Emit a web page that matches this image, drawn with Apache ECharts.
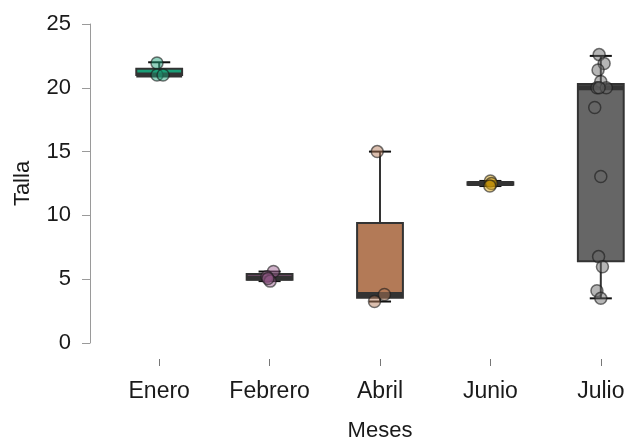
<!DOCTYPE html>
<html>
<head>
<meta charset="utf-8">
<script src="https://cdn.jsdelivr.net/npm/echarts@6/dist/echarts.min.js"></script>
<style>
  html, body { margin: 0; padding: 0; background: #fff; }
  #chart { width: 625px; height: 441px; }
</style>
</head>
<body>
<div id="chart"></div>
<script>
// Months on the horizontal axis
const categories = ['Enero', 'Febrero', 'Abril', 'Junio', 'Julio'];
const boxColors = ['#1B9E77', '#9A5C8E', '#B37A57', '#D69E09', '#666666'];

// Box summaries per month: whisker low, Q1, median, Q3, whisker high
const boxMin    = [21.0, 4.85, 3.25, 12.3, 3.5];
const boxQ1     = [21.0, 4.95, 3.55, 12.4, 6.4];
const boxMedian = [21.0, 5.1,  3.8,  12.5, 20.0];
const boxQ3     = [21.5, 5.4,  9.4,  12.6, 20.3];
const boxMax    = [22.0, 5.6,  15.0, 12.7, 22.5];

// Individual observations (Talla) and their horizontal jitter per month
const eneroValues   = [21.95, 21.0, 21.0];
const eneroJitter   = [-0.02, -0.02, 0.035];
const febreroValues = [5.6, 5.2, 4.85, 5.05];
const febreroJitter = [0.035, -0.025, 0.005, -0.015];
const abrilValues   = [15.0, 3.8, 3.25];
const abrilJitter   = [-0.025, 0.04, -0.05];
const junioValues   = [12.7, 12.5, 12.3];
const junioJitter   = [0.0, 0.01, -0.005];
const julioValues   = [22.6, 21.9, 21.4, 20.5, 20.0, 20.0, 20.0, 18.45, 13.05, 6.77, 5.98, 4.1, 3.5];
const julioJitter   = [-0.015, 0.03, -0.025, 0.0, -0.035, 0.05, -0.015, -0.055, 0.0, -0.02, 0.015, -0.035, 0.0];

const yTicks = [0, 5, 10, 15, 20, 25];

const FONT = '"Liberation Sans", Arial, sans-serif';
const TEXT = '#1a1a1a';

const pointGroups = [
  [eneroValues, eneroJitter],
  [febreroValues, febreroJitter],
  [abrilValues, abrilJitter],
  [junioValues, junioJitter],
  [julioValues, julioJitter]
];

function hexToRgba(hex, a) {
  const n = parseInt(hex.slice(1), 16);
  return 'rgba(' + ((n >> 16) & 255) + ',' + ((n >> 8) & 255) + ',' + (n & 255) + ',' + a + ')';
}

const boxData = categories.map((c, i) => [i, boxMin[i], boxQ1[i], boxMedian[i], boxQ3[i], boxMax[i]]);

function renderBox(params, api) {
  const i = api.value(0);
  const pMin = api.coord([i, api.value(1)]);
  const pQ1 = api.coord([i, api.value(2)]);
  const pMed = api.coord([i, api.value(3)]);
  const pQ3 = api.coord([i, api.value(4)]);
  const pMax = api.coord([i, api.value(5)]);
  const unit = api.size([1, 0])[0];
  const bw = unit * 0.415;
  const cw = unit * 0.2;
  const x = pMed[0];
  const dark = '#333333';
  return {
    type: 'group',
    children: [
      { type: 'line', shape: { x1: x, y1: pQ1[1], x2: x, y2: pMin[1] }, style: { stroke: dark, lineWidth: 2 } },
      { type: 'line', shape: { x1: x, y1: pQ3[1], x2: x, y2: pMax[1] }, style: { stroke: dark, lineWidth: 2 } },
      { type: 'line', shape: { x1: x - cw / 2, y1: pMin[1], x2: x + cw / 2, y2: pMin[1] }, style: { stroke: '#111', lineWidth: 2 } },
      { type: 'line', shape: { x1: x - cw / 2, y1: pMax[1], x2: x + cw / 2, y2: pMax[1] }, style: { stroke: '#111', lineWidth: 2 } },
      { type: 'rect', shape: { x: x - bw / 2, y: pQ3[1], width: bw, height: pQ1[1] - pQ3[1] },
        style: { fill: boxColors[i], stroke: dark, lineWidth: 2 } },
      { type: 'line', shape: { x1: x - bw / 2, y1: pMed[1], x2: x + bw / 2, y2: pMed[1] }, style: { stroke: dark, lineWidth: 5 } }
    ]
  };
}

const scatterSeries = pointGroups.map((g, i) => ({
  type: 'scatter',
  xAxisIndex: 0,
  yAxisIndex: 0,
  z: 3,
  symbolSize: 12,
  itemStyle: {
    color: hexToRgba(boxColors[i], 0.6),
    borderColor: 'rgba(25,25,25,0.75)',
    borderWidth: 1.5
  },
  data: g[0].map((v, k) => [i + g[1][k], v])
}));

const chart = echarts.init(document.getElementById('chart'), null, { renderer: 'canvas' });
chart.setOption({
  animation: false,
  backgroundColor: '#ffffff',
  grid: [
    // plotting area
    { left: 104, top: 24, width: 552, height: 319, containLabel: false, outerBoundsMode: 'none' },
    // month axis, set slightly below the plotting area
    { left: 104, top: 24, width: 552, height: 335, containLabel: false, outerBoundsMode: 'none' }
  ],
  xAxis: [
    {
      type: 'value',
      gridIndex: 0,
      min: -0.5,
      max: 4.5,
      show: false
    },
    {
      type: 'category',
      gridIndex: 1,
      data: categories,
      position: 'bottom',
      name: 'Meses',
      nameLocation: 'middle',
      nameGap: 61,
      nameTextStyle: { fontFamily: FONT, fontSize: 22, color: TEXT },
      axisLine: { show: false, onZero: false },
      axisTick: { show: true, alignWithLabel: true, interval: 0, length: 7, lineStyle: { color: '#777', width: 1 } },
      axisLabel: { fontFamily: FONT, fontSize: 23, color: TEXT, margin: 21, interval: 0 },
      splitLine: { show: false }
    }
  ],
  yAxis: [
    {
      type: 'value',
      gridIndex: 0,
      min: yTicks[0],
      max: yTicks[yTicks.length - 1],
      interval: 5,
      offset: 14,
      name: 'Talla',
      nameLocation: 'middle',
      nameGap: 56,
      nameTextStyle: { fontFamily: FONT, fontSize: 22, color: TEXT },
      axisLine: { show: true, onZero: false, lineStyle: { color: '#9a9a9a', width: 1 } },
      axisTick: { show: true, length: 8, lineStyle: { color: '#9a9a9a', width: 1 } },
      axisLabel: { fontFamily: FONT, fontSize: 22, color: TEXT, margin: 19 },
      splitLine: { show: false }
    },
    {
      type: 'value',
      gridIndex: 1,
      show: false
    }
  ],
  series: [
    {
      type: 'custom',
      xAxisIndex: 0,
      yAxisIndex: 0,
      z: 2,
      renderItem: renderBox,
      encode: { x: 0, y: [1, 2, 3, 4, 5] },
      data: boxData
    }
  ].concat(scatterSeries)
});
</script>
</body>
</html>
